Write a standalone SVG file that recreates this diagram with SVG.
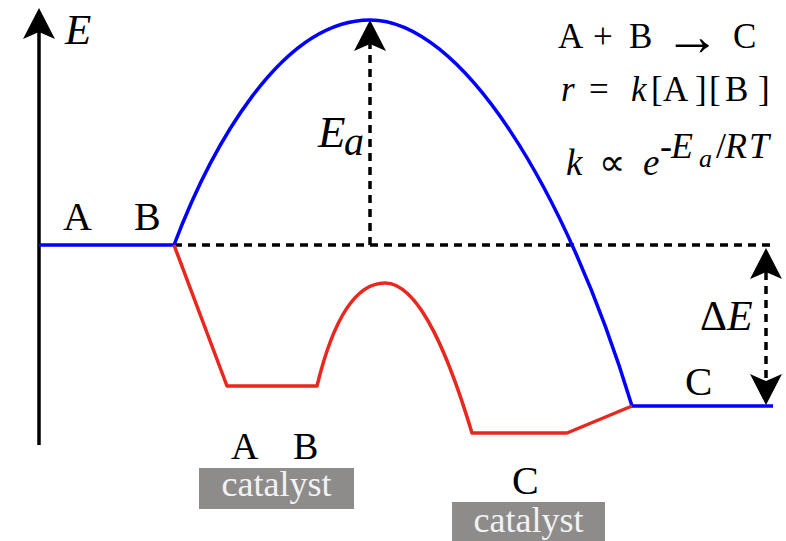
<svg xmlns="http://www.w3.org/2000/svg" width="786" height="541" viewBox="0 0 786 541">
<style>
.serif{font-family:"Liberation Serif","Times New Roman",serif;fill:#000}
.it{font-style:italic}
.blue{fill:none;stroke:#0000ff;stroke-width:3.5;stroke-linejoin:round}
.red{fill:none;stroke:#e8281e;stroke-width:3.5;stroke-linejoin:round}
.dash{fill:none;stroke:#000;stroke-width:3.5;stroke-dasharray:8 6}
.axis{fill:none;stroke:#000;stroke-width:3.5}
.box{fill:#8e8c8b}
.cat{font-family:"Liberation Serif","Times New Roman",serif;font-size:36px;fill:#f2f2f2;text-anchor:middle}
</style>
<defs>
<marker id="ah" viewBox="-33 -18 36 36" markerWidth="36" markerHeight="36" refX="-24" refY="0" orient="auto-start-reverse" markerUnits="userSpaceOnUse" overflow="visible">
<path d="M0,0 L-31,-16 L-24,0 L-31,16 Z" fill="#000"/>
</marker>
</defs>
<rect width="786" height="541" fill="#fff"/>
<g id="axis">
<line class="axis" x1="39" y1="445" x2="39" y2="32" marker-end="url(#ah)"/>
<text class="serif it" x="65" y="44" font-size="43">E</text>
</g>
<g id="connectors">
<line class="dash" x1="174" y1="245" x2="773" y2="245"/>
<line class="dash" x1="370" y1="245" x2="370" y2="44" marker-end="url(#ah)"/>
<line class="dash" x1="766" y1="272" x2="766" y2="381" marker-start="url(#ah)" marker-end="url(#ah)"/>
</g>
<g id="uncatalyzed">
<path class="blue" d="M39,245 L174,245 C210,150 280,20 370,20 C460,20 565,185 632,406 L773,406"/>
</g>
<g id="catalyzed">
<path class="red" d="M174,245 L227,386 L317,386 C333,320 355,283 385,283 C420,283 450,360 472,433 L567,433 L632,406"/>
</g>
<g id="label-reactants">
<text class="serif" x="63" y="230" font-size="40">A</text>
<text class="serif" x="134" y="230" font-size="40">B</text>
</g>
<g id="label-product">
<text class="serif" x="685" y="395" font-size="41">C</text>
</g>
<g id="label-ea">
<text class="serif it" x="318" y="147" font-size="45">E</text>
<text class="serif it" x="344" y="155" font-size="40">a</text>
</g>
<g id="label-de">
<text class="serif" x="700" y="330" font-size="42">Δ<tspan class="it">E</tspan></text>
</g>
<g id="equations">
<text class="serif" y="48" font-size="35"><tspan x="558">A</tspan><tspan x="593">+</tspan><tspan x="629">B</tspan><tspan x="664" y="55" font-size="56">→</tspan><tspan x="733" y="48">C</tspan></text>
<text class="serif" y="101" font-size="35"><tspan class="it" x="561">r</tspan><tspan x="589">=</tspan><tspan class="it" x="631">k</tspan><tspan x="651">[</tspan><tspan x="663">A</tspan><tspan x="695">]</tspan><tspan x="709">[</tspan><tspan x="725">B</tspan><tspan x="758">]</tspan></text>
<text class="serif" y="175" font-size="37"><tspan class="it" x="566">k</tspan><tspan x="599">∝</tspan><tspan class="it" x="643">e</tspan></text>
<text class="serif" y="158" font-size="36"><tspan x="660">-</tspan><tspan class="it" x="671">E</tspan><tspan class="it" x="699" y="167" font-size="26">a</tspan><tspan x="716" y="158">/</tspan><tspan class="it" x="725">R</tspan><tspan class="it" x="749">T</tspan></text>
</g>
<g id="catalyst-reactants">
<text class="serif" x="231" y="459" font-size="38">A</text>
<text class="serif" x="293" y="459" font-size="38">B</text>
<rect class="box" x="199" y="468" width="155" height="41"/>
<text class="cat" x="276.5" y="496">catalyst</text>
</g>
<g id="catalyst-product">
<text class="serif" x="512" y="494" font-size="40">C</text>
<rect class="box" x="452" y="502" width="153" height="40"/>
<text class="cat" x="528.5" y="532">catalyst</text>
</g>
</svg>
